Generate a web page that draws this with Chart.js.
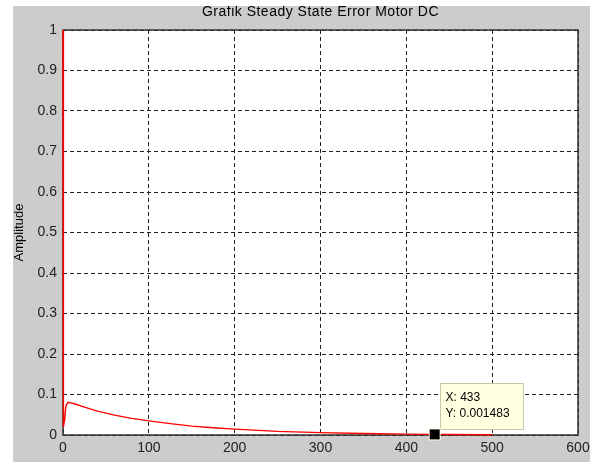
<!DOCTYPE html>
<html>
<head>
<meta charset="utf-8">
<script src="https://cdn.jsdelivr.net/npm/chart.js@4/dist/chart.umd.min.js"></script>
<style>
  html, body { margin: 0; padding: 0; background: #fff; }
  #myChart { position: absolute; left: 13px; top: 6px; }
</style>
</head>
<body>
<canvas id="myChart" width="577" height="456"></canvas>
<script>
// values
const timeVals = [0, 0, 1, 2, 3, 4, 6, 8, 15, 25, 40, 60, 80, 100, 125, 150, 175, 200, 250, 300, 350, 400, 433, 450, 500];
const errorVals = [1, 0.51, 0.02, 0.04, 0.065, 0.075, 0.081, 0.08, 0.076, 0.069, 0.059, 0.049, 0.041, 0.035, 0.028, 0.022, 0.018, 0.0146, 0.009, 0.0058, 0.0036, 0.0022, 0.0015, 0.0013, 0.0008];
const xTicks = [0, 100, 200, 300, 400, 500, 600];
const yTicks = [0, 0.1, 0.2, 0.3, 0.4, 0.5, 0.6, 0.7, 0.8, 0.9, 1];
const tipX = 433;
const tipY = 0.001483;
const chartTitle = 'Grafik Steady State Error Motor DC';
const yTitle = 'Amplitude';

const points = timeVals.map((t, i) => ({ x: t, y: errorVals[i] }));
const font = 'Liberation Sans, Arial, sans-serif';

const figurePlugin = {
  id: 'figure',
  beforeDraw(chart) {
    const ctx = chart.ctx;
    ctx.save();
    ctx.fillStyle = '#cccccc';
    ctx.fillRect(0, 0, chart.width, chart.height);
    const a = chart.chartArea;
    ctx.fillStyle = '#ffffff';
    ctx.fillRect(a.left, a.top, a.right - a.left, a.bottom - a.top);
    ctx.restore();
  },
  beforeDatasetsDraw(chart) {
    const ctx = chart.ctx;
    const a = chart.chartArea;
    ctx.save();
    // box around axes
    ctx.strokeStyle = '#303030';
    ctx.lineWidth = 1.5;
    ctx.strokeRect(a.left, a.top, a.right - a.left, a.bottom - a.top);
    ctx.restore();
  },
  afterDraw(chart) {
    const ctx = chart.ctx;
    const a = chart.chartArea;
    ctx.save();
    // title
    ctx.fillStyle = '#000';
    ctx.font = '14px ' + font;
    ctx.letterSpacing = '0.5px';
    ctx.textAlign = 'center';
    ctx.textBaseline = 'middle';
    ctx.fillText(chartTitle, (a.left + a.right) / 2, 6);
    ctx.letterSpacing = '0px';
    // y label
    ctx.save();
    ctx.translate(6, (a.top + a.bottom) / 2);
    ctx.rotate(-Math.PI / 2);
    ctx.font = '13px ' + font;
    ctx.fillText(yTitle, 0, 0);
    ctx.restore();
    // datatip
    const px = chart.scales.x.getPixelForValue(tipX);
    const py = chart.scales.y.getPixelForValue(tipY);
    ctx.fillStyle = '#ffffe1';
    ctx.strokeStyle = '#c8c8a8';
    ctx.lineWidth = 1;
    const bx = Math.round(px + 5) + 0.5, by = Math.round(py - 51) + 0.5;
    ctx.fillRect(bx, by, 83, 46);
    ctx.strokeRect(bx, by, 83, 46);
    ctx.fillStyle = '#000';
    ctx.font = '12px ' + font;
    ctx.textAlign = 'left';
    ctx.fillText('X: ' + tipX, bx + 5, by + 14);
    ctx.fillText('Y: ' + tipY, bx + 5, by + 30);
    ctx.fillStyle = '#ffffe1';
    ctx.fillRect(px - 6, py - 6, 12, 12);
    ctx.fillStyle = '#000';
    ctx.fillRect(px - 5, py - 5, 10, 10);
    ctx.restore();
  }
};

const config = {
  type: 'scatter',
  data: {
    datasets: [
      {
        label: 'error',
        data: points,
        showLine: true,
        borderColor: 'rgb(255, 0, 0)',
        borderWidth: 1.4,
        pointRadius: 0,
        tension: 0,
        clip: 3,
      },
    ],
  },
  options: {
    responsive: false,
    animation: false,
    events: [],
    layout: { padding: { left: 0, top: 24, right: 12, bottom: 0 } },
    plugins: { legend: { display: false }, tooltip: { enabled: false } },
    scales: {
      x: {
        type: 'linear',
        min: 0,
        max: 600,
        afterBuildTicks: (s) => { s.ticks = xTicks.map(v => ({ value: v })); },
        afterFit: (s) => { s.height = 27; s.paddingLeft = 0; s.paddingRight = 0; },
        ticks: { color: '#222', font: { family: font, size: 14 }, padding: 5, maxRotation: 0 },
        grid: { color: '#222', lineWidth: 1, drawTicks: false },
        border: { display: false, dash: [4, 3] },
      },
      y: {
        type: 'linear',
        min: 0,
        max: 1,
        afterBuildTicks: (s) => { s.ticks = yTicks.map(v => ({ value: v })); },
        afterFit: (s) => { s.width = 50; s.paddingTop = 0; s.paddingBottom = 0; },
        ticks: { color: '#222', font: { family: font, size: 14 }, padding: 6, callback: (v) => String(v) },
        grid: { color: '#222', lineWidth: 1, drawTicks: false },
        border: { display: false, dash: [4, 3] },
      },
    },
  },
  plugins: [figurePlugin],
};

const myChart = new Chart(document.getElementById('myChart'), config);
</script>
</body>
</html>
